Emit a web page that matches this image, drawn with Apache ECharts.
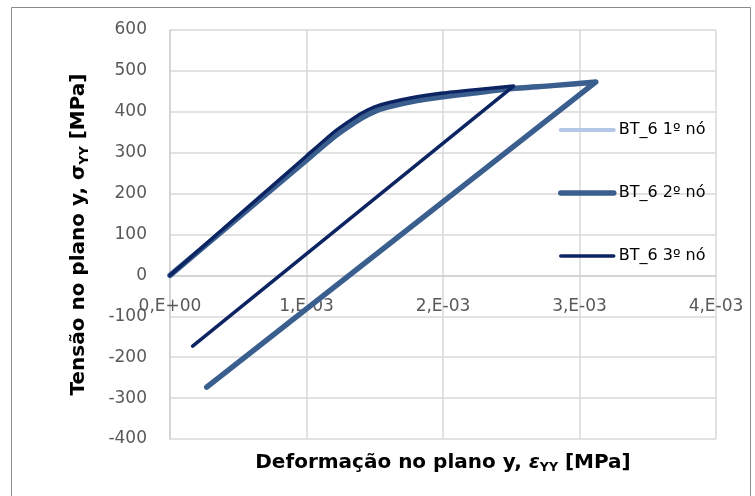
<!DOCTYPE html>
<html>
<head>
<meta charset="utf-8">
<script src="https://cdn.jsdelivr.net/npm/echarts@6/dist/echarts.min.js"></script>
<style>
html,body{margin:0;padding:0;background:#fff;}
#chart{width:755px;height:496px;}
</style>
</head>
<body>
<div id="chart"></div>
<script>
// ---- data ----
const seriesNames = ['BT_6 1º nó', 'BT_6 2º nó', 'BT_6 3º nó'];
const xTickLabels = ['0,E+00', '1,E-03', '2,E-03', '3,E-03', '4,E-03'];
const yTicks = [-400, -300, -200, -100, 0, 100, 200, 300, 400, 500, 600];

// node 1 (hidden under node 2)
const strain1 = [0, 0.0005, 0.0010, 0.0012, 0.0013, 0.0014, 0.0015, 0.0016, 0.0018, 0.0020, 0.0022, 0.0025, 0.0028, 0.00312, 0.000269];
const stress1 = [0, 141, 282, 338, 362, 384, 401, 412, 427, 437, 445, 457, 464, 473, -273];
// node 2
const strain2 = [0, 0.0005, 0.0010, 0.0012, 0.0013, 0.0014, 0.0015, 0.0016, 0.0018, 0.0020, 0.0022, 0.0025, 0.0028, 0.00312, 0.000269];
const stress2 = [0, 141, 282, 338, 362, 384, 401, 412, 427, 437, 445, 457, 464, 473, -273];
// node 3
const strain3 = [0, 0.0005, 0.0010, 0.0012, 0.0013, 0.0014, 0.0015, 0.0016, 0.0018, 0.0020, 0.0022, 0.002517, 0.000166];
const stress3 = [0, 146, 292, 350, 374, 396, 412, 422, 436, 446, 453, 463, -173];

const zip = (xs, ys) => xs.map((x, i) => [x, ys[i]]);

const chart = echarts.init(document.getElementById('chart'));
const FONT = 'DejaVu Sans';
const colors = ['#b4c7e7', '#3a5f8f', '#0c2462'];
const widths = [4, 5.5, 3.5];

const GRID_TOP = 30, GRID_BOTTOM = 57, H = 496;
// the x axis crosses at stress 0, which lies 4 of the 10 bands above the plot bottom
const zeroOffset = -(H - GRID_TOP - GRID_BOTTOM) * 0.4;

const option = {
  animation: false,
  backgroundColor: '#ffffff',
  textStyle: { fontFamily: FONT },
  graphic: [{
    type: 'rect',
    shape: { x: 11.5, y: 7.5, width: 739, height: 500 },
    style: { fill: 'none', stroke: '#8c8c8c', lineWidth: 1 },
    silent: true
  }],
  grid: { left: 170, right: 39, top: GRID_TOP, bottom: GRID_BOTTOM, containLabel: false, outerBoundsMode: 'none' },
  legend: {
    orient: 'vertical',
    left: 553,
    top: 117,
    itemWidth: 53,
    itemHeight: 14,
    itemGap: 47,
    itemStyle: { opacity: 0 },
    textStyle: { fontFamily: FONT, fontSize: 16, color: '#000' },
    data: seriesNames.map((n, i) => ({ name: n, lineStyle: { width: widths[i], color: colors[i], cap: 'round' } }))
  },
  xAxis: {
    type: 'value',
    position: 'bottom',
    offset: zeroOffset,
    min: 0, max: 0.004, interval: 0.001,
    axisLine: { show: true, onZero: false, lineStyle: { color: '#d0d0d0', width: 1.5 } },
    axisTick: { show: false },
    splitLine: { show: true, lineStyle: { color: '#d9d9d9', width: 1.5 } },
    axisLabel: {
      margin: 23,
      color: '#595959', fontFamily: FONT, fontSize: 17,
      formatter: v => xTickLabels[Math.round(v / 0.001)] || ''
    },
    name: '{b|Deformação no plano y, }{e|ε}{s|YY}{b| [MPa]}',
    nameLocation: 'middle',
    nameGap: 175,
    nameTextStyle: {
      rich: {
        b: { fontFamily: FONT, fontWeight: 'bold', fontSize: 20, color: '#000', lineHeight: 24 },
        e: { fontFamily: FONT, fontWeight: 'bold', fontStyle: 'italic', fontSize: 20, color: '#000', lineHeight: 24 },
        s: { fontFamily: FONT, fontWeight: 'bold', fontSize: 12.5, color: '#000', verticalAlign: 'bottom', lineHeight: 16 }
      }
    }
  },
  yAxis: {
    type: 'value',
    min: -400, max: 600, interval: 100,
    axisLine: { show: true, onZero: false, lineStyle: { color: '#d0d0d0', width: 1.5 } },
    axisTick: { show: false },
    splitLine: { show: true, lineStyle: { color: '#d9d9d9', width: 1.5 } },
    axisLabel: {
      margin: 23,
      color: '#595959', fontFamily: FONT, fontSize: 17,
      formatter: v => (yTicks.indexOf(v) >= 0 ? String(v) : '')
    },
    name: '{b|Tensão no plano y, σ}{s|YY}{b| [MPa]}',
    nameLocation: 'middle',
    nameGap: 79,
    nameRotate: 90,
    nameTextStyle: {
      rich: {
        b: { fontFamily: FONT, fontWeight: 'bold', fontSize: 20, color: '#000', lineHeight: 24 },
        s: { fontFamily: FONT, fontWeight: 'bold', fontSize: 12.5, color: '#000', verticalAlign: 'bottom', lineHeight: 16 }
      }
    }
  },
  series: [
    {
      name: seriesNames[0], type: 'line', data: zip(strain1, stress1),
      symbol: 'none', smooth: 0.2,
      lineStyle: { color: colors[0], width: widths[0], cap: 'round', join: 'round' },
      itemStyle: { color: colors[0] }
    },
    {
      name: seriesNames[1], type: 'line', data: zip(strain2, stress2),
      symbol: 'none', smooth: 0.2,
      lineStyle: { color: colors[1], width: widths[1], cap: 'round', join: 'round' },
      itemStyle: { color: colors[1] }
    },
    {
      name: seriesNames[2], type: 'line', data: zip(strain3, stress3),
      symbol: 'none', smooth: 0.2,
      lineStyle: { color: colors[2], width: widths[2], cap: 'round', join: 'round' },
      itemStyle: { color: colors[2] }
    }
  ]
};
chart.setOption(option);
</script>
</body>
</html>
